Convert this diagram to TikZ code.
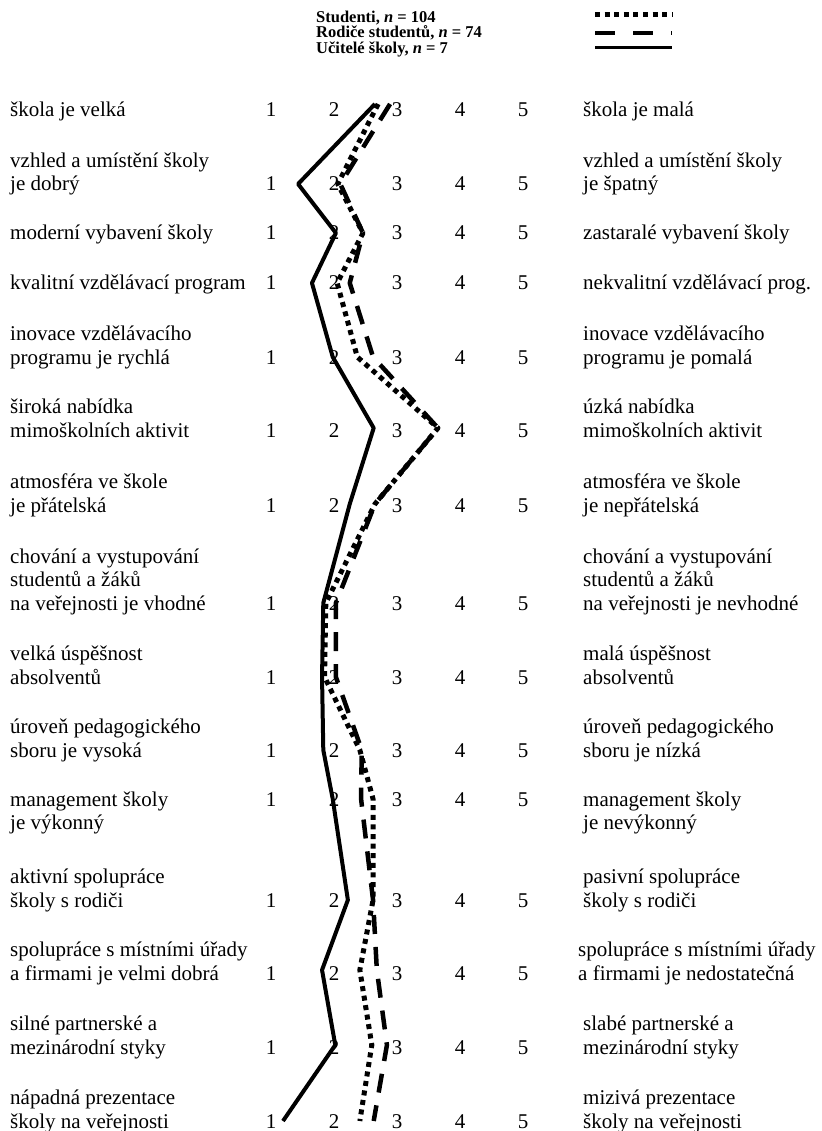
\documentclass[tikz,border=0pt]{standalone}
\usepackage{fontspec}
\setmainfont{Liberation Serif}
\usetikzlibrary{calc}

\tikzset{
	teachline/.style = {line width = 4pt, line join = round},
	parline/.style = {line width = 4.5pt, line join = round, dash pattern = on 19pt off 13pt},
	studline/.style = {line width = 5pt, line join = round, dash pattern = on 5pt off 4.6pt},
	scalenum/.style = {anchor = base, inner sep = 0pt, font = \fontsize{21}{23.5}\selectfont},
	sidetext/.style = {anchor = base west, inner sep = 0pt, align = left, font = \fontsize{21}{23.5}\selectfont},
	legtext/.style = {anchor = base west, inner sep = 0pt, font = \fontsize{16.5}{15.5}\selectfont\bfseries}
}

\begin{document}
\begin{tikzpicture}[x = 1pt, y = -1pt]
		\def\xa{271};
		\def\dx{63};
		\def\xl{10};
		\def\xr{583};
		
		\useasboundingbox (0,0) rectangle (821,1131);
		
		% legend
		\node [legtext] (leg-stud) at (316,22.5) {Studenti, \textit{n} = 104};
		\node [legtext] (leg-par) at (316,38) {Rodiče studentů, \textit{n} = 74};
		\node [legtext] (leg-teach) at (316,53.5) {Učitelé školy, \textit{n} = 7};
		
		\coordinate (ls-a) at (595,15);
		\coordinate (ls-b) at (672,15);
		\coordinate (lp-a) at (595,33);
		\coordinate (lp-b) at (672,33);
		\coordinate (lt-a) at (595,48);
		\coordinate (lt-b) at (672,48);
		
		\draw [studline] (ls-a) -- (ls-b);
		\draw [parline, dash pattern = on 20pt off 18pt] (lp-a) -- (lp-b);
		\draw [teachline, line width = 3pt] (lt-a) -- (lt-b);
		
		% scale numbers
		\foreach \yy [count = \rw] in {110,184,233,283,357,430,505,603,677,750,799,900,973,1047,1121} {
			\foreach \val in {1,...,5} {
				\node [scalenum] (num\rw-\val) at ({\xa + (\val - 1)*\dx}, {\yy + 7}) {\val};
			}
		}
		
		% labels, left end (last line on the row of numbers)
		\node [sidetext] (left1) at (\xl,117) {škola je velká};
		\node [sidetext] (left2) at (\xl,191) {vzhled a umístění školy\\je dobrý};
		\node [sidetext] (left3) at (\xl,240) {moderní vybavení školy};
		\node [sidetext] (left4) at (\xl,290) {kvalitní vzdělávací program};
		\node [sidetext] (left5) at (\xl,364) {inovace vzdělávacího\\programu je rychlá};
		\node [sidetext] (left6) at (\xl,437) {široká nabídka\\mimoškolních aktivit};
		\node [sidetext] (left7) at (\xl,512) {atmosféra ve škole\\je přátelská};
		\node [sidetext] (left8) at (\xl,610) {chování a vystupování\\studentů a žáků\\na veřejnosti je vhodné};
		\node [sidetext] (left9) at (\xl,684) {velká úspěšnost\\absolventů};
		\node [sidetext] (left10) at (\xl,757) {úroveň pedagogického\\sboru je vysoká};
		\node [sidetext] (left11) at (\xl,829.5) {management školy\\je výkonný};
		\node [sidetext] (left12) at (\xl,907) {aktivní spolupráce\\školy s rodiči};
		\node [sidetext] (left13) at (\xl,980) {spolupráce s místními úřady\\a firmami je velmi dobrá};
		\node [sidetext] (left14) at (\xl,1054) {silné partnerské a\\mezinárodní styky};
		\node [sidetext] (left15) at (\xl,1128) {nápadná prezentace\\školy na veřejnosti};
		
		% labels, right end
		\node [sidetext] (right1) at (\xr,117) {škola je malá};
		\node [sidetext] (right2) at (\xr,191) {vzhled a umístění školy\\je špatný};
		\node [sidetext] (right3) at (\xr,240) {zastaralé vybavení školy};
		\node [sidetext] (right4) at (\xr,290) {nekvalitní vzdělávací prog.};
		\node [sidetext] (right5) at (\xr,364) {inovace vzdělávacího\\programu je pomalá};
		\node [sidetext] (right6) at (\xr,437) {úzká nabídka\\mimoškolních aktivit};
		\node [sidetext] (right7) at (\xr,512) {atmosféra ve škole\\je nepřátelská};
		\node [sidetext] (right8) at (\xr,610) {chování a vystupování\\studentů a žáků\\na veřejnosti je nevhodné};
		\node [sidetext] (right9) at (\xr,684) {malá úspěšnost\\absolventů};
		\node [sidetext] (right10) at (\xr,757) {úroveň pedagogického\\sboru je nízká};
		\node [sidetext] (right11) at (\xr,829.5) {management školy\\je nevýkonný};
		\node [sidetext] (right12) at (\xr,907) {pasivní spolupráce\\školy s rodiči};
		\node [sidetext] (right13) at (\xr - 5,980) {spolupráce s místními úřady\\a firmami je nedostatečná};
		\node [sidetext] (right14) at (\xr,1054) {slabé partnerské a\\mezinárodní styky};
		\node [sidetext] (right15) at (\xr,1128) {mizivá prezentace\\školy na veřejnosti};
		
		% mean values: teachers / students / parents
		\foreach \yy/\t/\s/\p [count = \rw] in {
			104/2.65/2.70/2.89, 184/1.43/2.06/2.10, 233/2.03/2.46/2.46,
			283/1.65/2.05/2.25, 357/1.98/2.37/2.62, 428/2.63/3.65/3.65,
			504/2.25/2.65/2.65, 603/1.83/1.87/2.03, 677/1.81/1.85/2.03,
			750/1.83/2.41/2.44, 799/1.98/2.62/2.43, 900/2.22/2.62/2.62,
			970/1.81/2.41/2.68, 1045/2.02/2.60/2.84, 1121/1.19/2.41/2.63
		}{
			\coordinate (t\rw) at ({\xa + (\t - 1)*\dx}, \yy);
			\coordinate (s\rw) at ({\xa + (\s - 1)*\dx}, \yy);
			\coordinate (p\rw) at ({\xa + (\p - 1)*\dx}, \yy);
		}
		
		\draw [teachline] (t1) \foreach \i in {2,...,15} { -- (t\i) };
		\draw [parline] (p1) \foreach \i in {2,...,15} { -- (p\i) };
		\draw [studline] (s1) \foreach \i in {2,...,15} { -- (s\i) };
\end{tikzpicture}
\end{document}
